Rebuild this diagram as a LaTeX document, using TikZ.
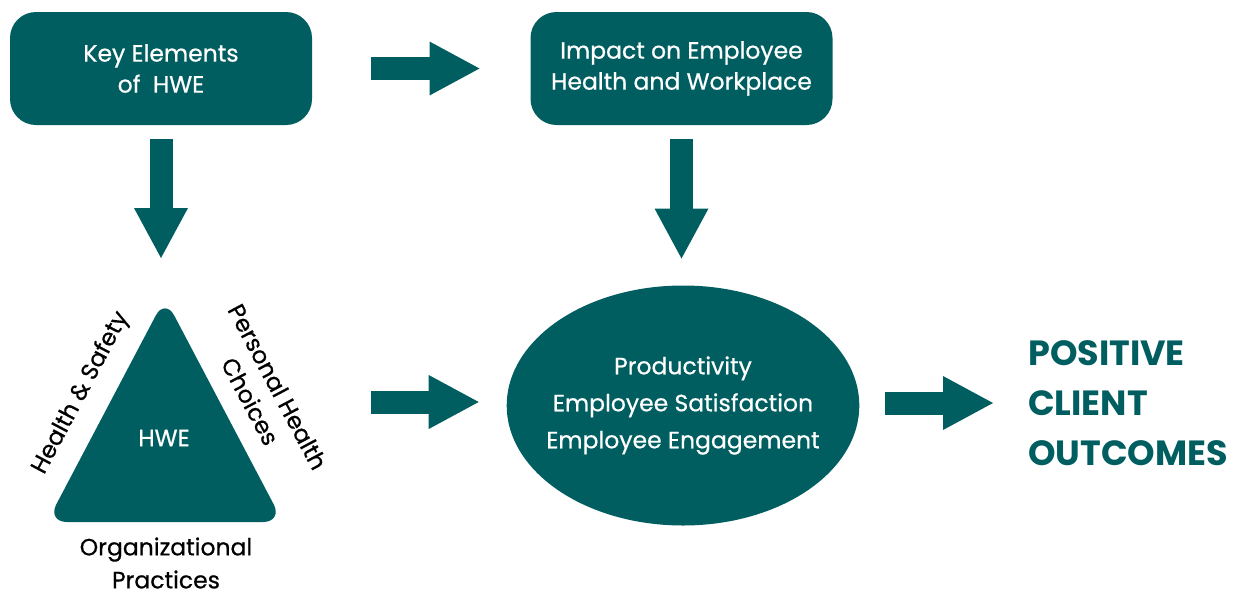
\documentclass[tikz,border=0pt]{standalone}
\usepackage{fontspec}
\setmainfont{Poppins}[UprightFeatures={FakeBold=0.6}]
\usetikzlibrary{shapes.geometric,arrows.meta}
\definecolor{hweteal}{RGB}{0,94,96}

\begin{document}
\begin{tikzpicture}[x=1pt,y=-1pt]
\tikzset{
  tealbox/.style={fill=hweteal, text=white, rounded corners=26pt, minimum width=302pt, minimum height=113pt, align=center, inner sep=0pt, outer sep=0pt, font=\fontsize{23.5}{31}\selectfont},
  blockarrow/.style={hweteal, line width=23pt, -{Triangle[length=50pt,width=54pt,line width=0pt]}},
  sidelabel/.style={align=center, inner sep=0pt, font=\fontsize{23.5}{31}\selectfont}
}
\useasboundingbox (0,0) rectangle (1236,595);

\node[tealbox] (key) at (161,68.5) {Key Elements\\of~ HWE};
\node[tealbox] (impact) at (681.5,68.5) {Impact on Employee\\Health and Workplace};

\draw[blockarrow, shorten <=59pt, shorten >=51pt] (key) -- (impact);

\coordinate (tri-top) at (165,298);
\coordinate (tri-left) at (47,522);
\coordinate (tri-right) at (283,522);
\fill[hweteal, rounded corners=20pt] (tri-left) -- (tri-top) -- (tri-right) -- cycle;
\node[text=white, font=\fontsize{23.5}{31}\selectfont] (hwe) at (164,438) {HWE};

\draw[blockarrow, shorten <=14pt, shorten >=40pt] (key.south) -- (key.south |- tri-top);

\node[sidelabel, rotate=62] (safety) at (81,393) {Health \& Safety};
\node[sidelabel, rotate=-62] (choices) at (264,394) {Personal Health\\Choices};
\node[sidelabel, font=\fontsize{23.5}{33}\selectfont] (practices) at (166,563) {Organizational\\Practices};

\node[ellipse, fill=hweteal, text=white, minimum width=350pt, minimum height=240pt, inner xsep=-12pt, inner ysep=0pt, outer sep=0pt, align=center, font=\fontsize{23.5}{37}\selectfont] (prod) at (683,405.5) {Productivity\\Employee Satisfaction\\Employee Engagement};

\draw[blockarrow, shorten <=14pt, shorten >=27pt] (impact.south) -- (impact.south |- prod.north);

\coordinate (hwe-out) at (371,402);
\draw[blockarrow, shorten >=28pt] (hwe-out) -- (hwe-out -| prod.west);

\node[anchor=west, inner sep=0pt, text=hweteal, align=left, font=\fontsize{35}{50}\selectfont\bfseries] (outcome) at (1028,403) {POSITIVE\\CLIENT\\OUTCOMES};

\draw[blockarrow, shorten <=26pt, shorten >=35pt] (prod.east |- outcome.west) -- (outcome.west);

\end{tikzpicture}
\end{document}
